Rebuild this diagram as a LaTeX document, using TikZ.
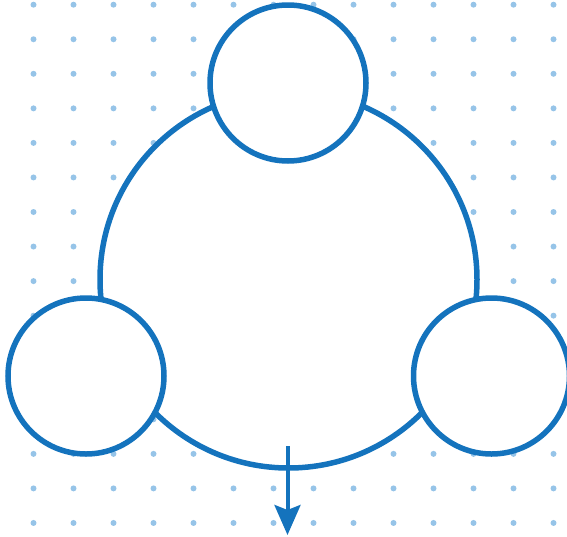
\documentclass[tikz,border=0pt]{standalone}
\usepackage{tikz}
\usetikzlibrary{arrows.meta}
\definecolor{ringblue}{RGB}{20,115,189}
\definecolor{dotblue}{RGB}{150,196,232}

\begin{document}
\begin{tikzpicture}[
  x=1pt, y=-1pt,
  ring/.style={circle, draw=ringblue, fill=white, line width=5.5pt,
               inner sep=0pt, minimum size=#1},
  arr/.style={-{Stealth[length=30pt, width=26pt, inset=5pt]},
              line width=4pt, ringblue}
]
\useasboundingbox (0,0) rectangle (567,536);
\clip (0,0) rectangle (567,536);
% dot grid
\foreach \i in {0,...,13}
  \foreach \j in {0,...,15}
    \fill[dotblue] (33.5+40*\i, 4.7+34.55*\j) circle (3pt);
\node[ring=377pt] (hub) at (288.5,279.5) {};
\coordinate (tail) at (287.5,446);
\coordinate (tip) at (287.5,535);
\draw[arr] (tail) -- (tip);
\node[ring=156pt] (top) at (288,83) {};
\node[ring=156pt] (left) at (86,376) {};
\node[ring=156pt] (right) at (491.5,376) {};
\end{tikzpicture}
\end{document}
